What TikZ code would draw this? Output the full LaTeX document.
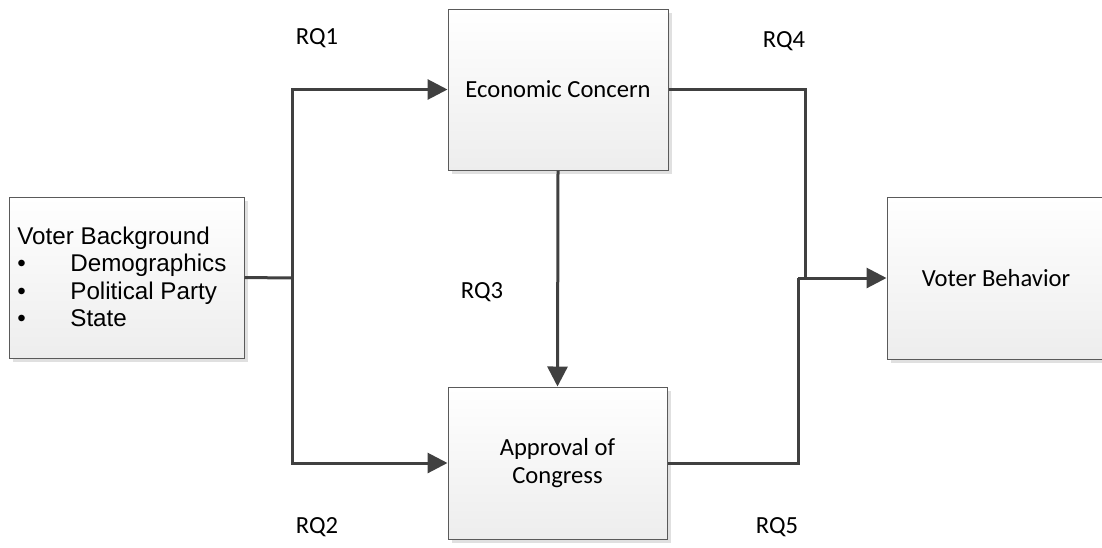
\documentclass[tikz,border=0pt]{standalone}
\usepackage{fontspec}
\setmainfont{Carlito}
\newfontfamily\arialfont{Liberation Sans}
\usetikzlibrary{arrows.meta,shadows}
\definecolor{linegray}{HTML}{404040}
\definecolor{bordergray}{HTML}{5A5A5A}
\definecolor{shadowgray}{HTML}{E0E0E0}
\newcommand{\mybul}{\makebox[26.5pt][l]{\textbullet}}
\begin{document}
\begin{tikzpicture}[x=0.5pt,y=-0.5pt,
  box/.style={draw=bordergray, line width=0.5pt, top color=white, bottom color=black!7,
    drop shadow={shadow xshift=2pt, shadow yshift=-2.2pt, fill=shadowgray, opacity=1},
    inner sep=0pt, font=\fontsize{12.3}{14}\selectfont, align=center},
  conn/.style={draw=linegray, line width=1.5pt},
  arr/.style={conn, -{Triangle[length=10pt,width=10pt]}},
  rq/.style={font=\fontsize{12.3}{14}\selectfont, inner sep=0pt}]
\useasboundingbox (0,0) rectangle (1102,547);
% boxes
\node[box, minimum width=117.5pt, minimum height=80.5pt] (vb) at (126.5,277.5) {};
\node[anchor=west, inner sep=0pt, align=left, font=\arialfont\fontsize{12.1}{13.75}\selectfont] (vbtext) at (17,277)
  {Voter Background\\
   \mybul Demographics\\
   \mybul Political Party\\
   \mybul State};
\node[box, minimum width=110pt, minimum height=80.5pt] (ec) at (558,89.5) {Economic Concern};
\node[box, minimum width=109.5pt, minimum height=76pt] (ac) at (557.5,463) {Approval of\\Congress};
\node[box, minimum width=109pt, minimum height=81pt] (beh) at (996,278) {Voter Behavior};
% junctions
\coordinate (j1) at (292,278);
\coordinate (m1) at (805,278);
\coordinate (m2) at (798,278);
% connectors
\draw[conn] (vb.east) -- (j1);
\draw[arr] (j1) |- (ec.west);
\draw[arr] (j1) |- (ac.west);
\draw[arr] (ec.south) -- (ac.north);
\draw[conn] (ec.east) -| (m1);
\draw[conn] (ac.east) -| (m2);
\draw[arr] (m2) -- (beh.west);
% labels
\node[rq] (rq1) at (317,38) {RQ1};
\node[rq] (rq4) at (784,41) {RQ4};
\node[rq] (rq3) at (482,292) {RQ3};
\node[rq] (rq2) at (317,527) {RQ2};
\node[rq] (rq5) at (777,527) {RQ5};
\end{tikzpicture}
\end{document}
